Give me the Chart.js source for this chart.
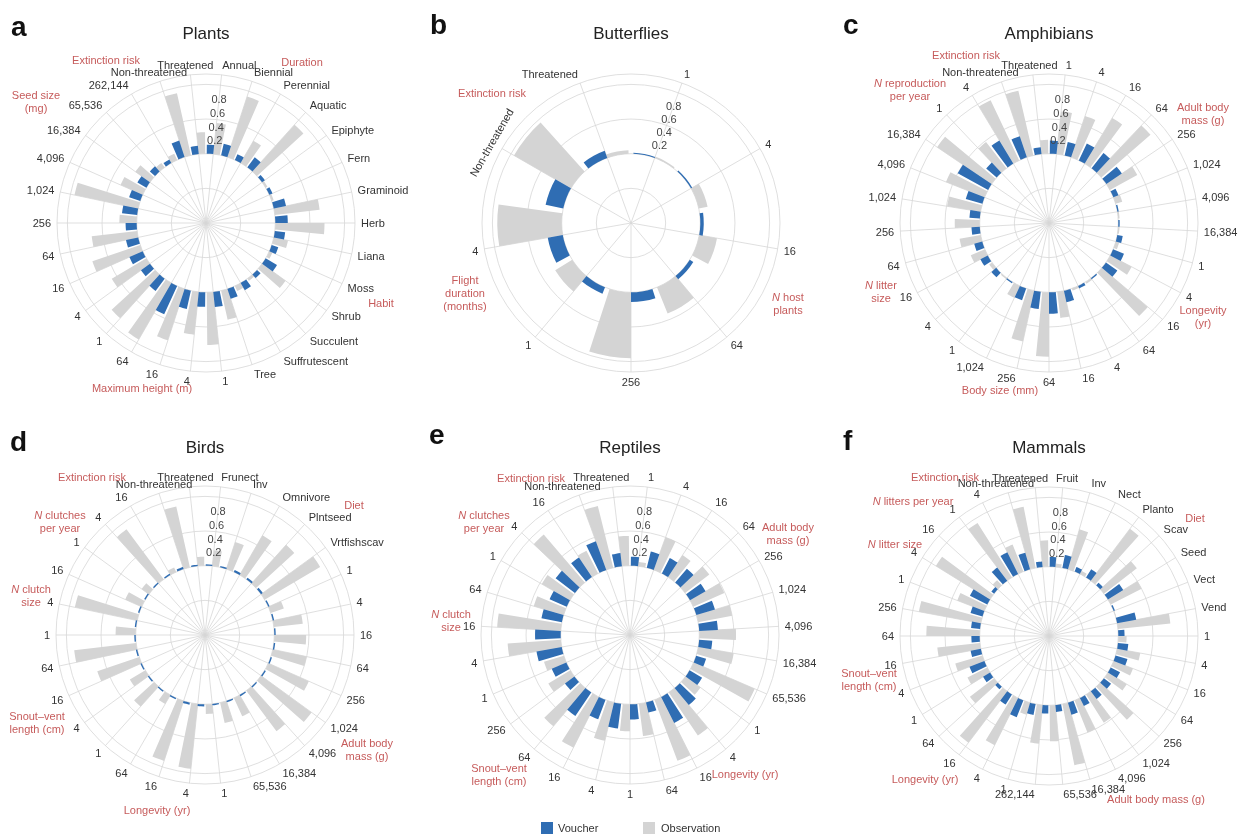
<!DOCTYPE html>
<html><head><meta charset="utf-8">
<script src="https://cdn.jsdelivr.net/npm/chart.js@4.4.1/dist/chart.umd.min.js"></script>
<style>
html,body{margin:0;padding:0;background:#fff;width:1243px;height:838px;overflow:hidden;position:relative;font-family:"Liberation Sans",Arial,Helvetica,sans-serif;}
canvas{position:absolute;}
.tx{position:absolute;white-space:nowrap;}
.ctr{transform:translate(-50%,-50%);text-align:center;}
.letter{font-size:28px;line-height:28px;font-weight:bold;color:#111;}
.title{font-size:17px;line-height:17px;color:#222;transform:translateX(-50%);}
.grp{font-size:11px;line-height:13px;color:#c65b5b;}
.leg{font-size:11px;line-height:13px;color:#333;transform:translateY(-50%);}
.sw{position:absolute;width:12px;height:12px;}
</style></head><body>
<script>
// ---------------- DATA ----------------
const catsPlants = ['Annual','Biennial','Perennial','Aquatic','Epiphyte','Fern','Graminoid','Herb','Liana','Moss','Shrub','Succulent','Suffrutescent','Tree','1','4','16','64','1','4','16','64','256','1,024','4,096','16,384','65,536','262,144','Non-threatened','Threatened'];
const voucherPlants = [0.13,0.17,0.09,0.18,0.05,0.05,0.18,0.18,0.15,0.10,0.19,0.07,0.12,0.15,0.22,0.21,0.27,0.45,0.22,0.16,0.21,0.18,0.16,0.22,0.17,0.15,0.10,0.06,0.25,0.12];
const observationPlants = [0.45,0.92,0.37,0.91,0.03,0.03,0.65,0.71,0.21,0.05,0.42,0.04,0.08,0.43,0.76,0.62,0.78,0.94,0.85,0.58,0.73,0.66,0.25,0.94,0.35,0.26,0.08,0.10,0.92,0.31];

const catsButterflies = ['1','4','16','64','256','1','4','Non-threatened','Threatened'];
const voucherButterflies = [0.015,0.02,0.05,0.06,0.14,0.10,0.22,0.26,0.11];
const observationButterflies = [0.02,0.13,0.26,0.41,0.95,0.29,0.93,0.95,0.05];

const catsAmphibians = ['1','4','16','64','256','1,024','4,096','16,384','1','4','16','64','4','16','64','256','1,024','1','4','16','64','256','1,024','4,096','16,384','1','4','Non-threatened','Threatened'];
const voucherAmphibians = [0.19,0.20,0.27,0.28,0.27,0.08,0.02,0.02,0.08,0.17,0.20,0.02,0.04,0.17,0.31,0.25,0.18,0.02,0.09,0.12,0.12,0.12,0.15,0.25,0.50,0.20,0.39,0.32,0.10];
const observationAmphibians = [0.62,0.63,0.77,0.94,0.45,0.10,0.02,0.02,0.05,0.35,0.87,0.03,0.03,0.38,0.93,0.75,0.19,0.02,0.05,0.22,0.31,0.36,0.49,0.60,0.95,0.48,0.96,0.96,0.20];

const catsBirds = ['Frunect','Inv','Omnivore','Plntseed','Vrtfishscav','1','4','16','64','256','1,024','4,096','16,384','65,536','1','4','16','64','1','4','16','64','1','4','16','1','4','16','Non-threatened','Threatened'];
const voucherBirds = [0.02,0.02,0.03,0.03,0.03,0.02,0.02,0.02,0.02,0.02,0.02,0.02,0.02,0.02,0.02,0.03,0.03,0.02,0.02,0.02,0.02,0.02,0.02,0.02,0.02,0.02,0.02,0.02,0.03,0.02];
const observationBirds = [0.23,0.41,0.66,0.75,0.93,0.20,0.42,0.46,0.50,0.64,0.90,0.73,0.29,0.30,0.14,0.94,0.91,0.15,0.39,0.26,0.64,0.90,0.29,0.92,0.26,0.13,0.90,0.07,0.90,0.13];

const catsReptiles = ['1','4','16','64','256','1,024','4,096','16,384','65,536','1','4','16','64','1','4','16','64','256','1','4','16','64','1','4','16','Non-threatened','Threatened'];
const voucherReptiles = [0.13,0.24,0.25,0.26,0.26,0.28,0.27,0.19,0.15,0.21,0.32,0.42,0.15,0.22,0.36,0.30,0.41,0.17,0.23,0.37,0.37,0.30,0.27,0.35,0.34,0.44,0.19];
const observationReptiles = [0.06,0.50,0.38,0.44,0.49,0.50,0.53,0.52,0.96,0.27,0.75,0.94,0.47,0.39,0.57,0.82,0.72,0.37,0.30,0.77,0.92,0.45,0.47,0.91,0.37,0.92,0.43];

const catsMammals = ['Fruit','Inv','Nect','Planto','Scav','Seed','Vect','Vend','1','4','16','64','256','1,024','4,096','16,384','65,536','262,144','1','4','16','64','1','4','16','64','256','1','4','16','1','4','Non-threatened','Threatened'];
const voucherMammals = [0.14,0.19,0.07,0.14,0.05,0.26,0.02,0.28,0.09,0.15,0.18,0.15,0.13,0.14,0.13,0.18,0.10,0.12,0.16,0.26,0.17,0.05,0.12,0.23,0.15,0.12,0.13,0.18,0.28,0.05,0.24,0.35,0.25,0.08];
const observationMammals = [0.05,0.60,0.05,0.94,0.60,0.50,0.01,0.76,0.12,0.34,0.30,0.32,0.65,0.48,0.50,0.90,0.52,0.56,0.18,0.76,0.93,0.44,0.32,0.41,0.62,0.77,0.91,0.42,0.92,0.10,0.93,0.42,0.90,0.38];

const radialTickValues = [0.2, 0.4, 0.6, 0.8];
const gridValues = [-1, -0.5, 0, 0.5, 1, 1.15];

// ---------------- STYLE / LAYOUT ----------------
const BLUE = '#2f6db3', GRAY = '#d4d4d4', GRID = '#d7d7d7', CLEAR = 'rgba(0,0,0,0)';
const R_MIN = -1, R_MAX = 1.15;
const CAN = 420, RADIUS = 149, PAD = (CAN - 2 * RADIUS) / 2;
const FONT = '"Liberation Sans", Arial, Helvetica, sans-serif';

const panels = [
  {cx: 206, cy: 223, cats: catsPlants, v: voucherPlants, o: observationPlants, hj: {28: 0.62, 29: 0.58}},
  {cx: 631, cy: 223, cats: catsButterflies, v: voucherButterflies, o: observationButterflies, rotate: {7: -60}},
  {cx: 1049, cy: 223, cats: catsAmphibians, v: voucherAmphibians, o: observationAmphibians, hj: {27: 0.75, 28: 0.55}},
  {cx: 205, cy: 635, cats: catsBirds, v: voucherBirds, o: observationBirds, hj: {28: 0.54, 29: 0.56}},
  {cx: 630, cy: 635, cats: catsReptiles, v: voucherReptiles, o: observationReptiles, hj: {25: 0.69, 26: 0.69}},
  {cx: 1049, cy: 636, cats: catsMammals, v: voucherMammals, o: observationMammals, hj: {0: 0.33, 32: 0.64, 33: 0.76}}
];

const holePlugin = {
  id: 'hole',
  afterDatasetsUpdate(chart) {
    const s = chart.scales.r;
    const r0 = s.getDistanceFromCenterForValue(0);
    chart.data.datasets.forEach((d, i) => {
      chart.getDatasetMeta(i).data.forEach(a => { a.innerRadius = r0; });
    });
  }
};

const textPlugin = {
  id: 'polarText',
  afterDraw(chart, args, opts) {
    const s = chart.scales.r, ctx = chart.ctx;
    const R = s.drawingArea;
    const rot = (opts && opts.rotate) || {};
    const hjOv = (opts && opts.hj) || {};
    ctx.save();
    ctx.font = '11px ' + FONT;
    ctx.fillStyle = '#333';
    chart.data.labels.forEach((lab, i) => {
      const th = s.getIndexAngle(i);
      const w = ctx.measureText(lab).width;
      if (rot[i] !== undefined) {
        const p = s.getPointPosition(i, R + 11);
        ctx.save();
        ctx.translate(p.x, p.y);
        ctx.rotate(rot[i] * Math.PI / 180);
        ctx.textAlign = 'center'; ctx.textBaseline = 'middle';
        ctx.fillText(lab, 0, 0);
        ctx.restore();
        return;
      }
      const p = s.getPointPosition(i, R + 6);
      const deg = th * 180 / Math.PI;
      let hj;
      if (hjOv[i] !== undefined) hj = hjOv[i];
      else if (deg < 3 || deg > 357 || Math.abs(deg - 180) < 3) hj = 0.5;
      else hj = deg < 180 ? 0 : 1;
      const vj = 0.5 - 0.5 * Math.cos(th);
      ctx.textAlign = 'left'; ctx.textBaseline = 'alphabetic';
      ctx.fillText(lab, p.x - hj * w, p.y + vj * 8);
    });
    ctx.fillStyle = '#444';
    ctx.textAlign = 'center'; ctx.textBaseline = 'alphabetic';
    radialTickValues.forEach(v => {
      const p = s.getPointPosition(0, s.getDistanceFromCenterForValue(v));
      ctx.fillText(v.toFixed(1), p.x, p.y + 4);
    });
    ctx.restore();
  }
};

panels.forEach(P => {
  const N = P.cats.length;
  const sec = 360 / N;
  const vData = [], vAng = [], vCol = [];
  const order = [];
  for (let k = 1; k < N; k++) order.push(k);
  order.push(0);
  order.forEach(k => {
    vData.push(0); vAng.push(0.55 * sec); vCol.push(CLEAR);
    vData.push(P.v[k]); vAng.push(0.45 * sec); vCol.push(BLUE);
  });
  const oData = [], oAng = [], oCol = [];
  for (let k = 0; k < N; k++) {
    oData.push(P.o[k]); oAng.push(0.45 * sec); oCol.push(GRAY);
    oData.push(0); oAng.push(0.55 * sec); oCol.push(CLEAR);
  }
  const cv = document.createElement('canvas');
  cv.width = CAN; cv.height = CAN;
  cv.style.left = (P.cx - CAN / 2) + 'px';
  cv.style.top = (P.cy - CAN / 2) + 'px';
  document.body.appendChild(cv);
  new Chart(cv, {
    type: 'polarArea',
    data: {
      labels: P.cats,
      datasets: [
        {label: 'Voucher', data: vData, backgroundColor: vCol, borderWidth: 0, angle: c => vAng[c.dataIndex]},
        {label: 'Observation', data: oData, backgroundColor: oCol, borderWidth: 0, angle: c => oAng[c.dataIndex]}
      ]
    },
    options: {
      responsive: false, animation: false, devicePixelRatio: 1, events: [],
      layout: {padding: PAD},
      plugins: {legend: {display: false}, tooltip: {enabled: false}, polarText: {rotate: P.rotate || {}, hj: P.hj || {}}},
      scales: {
        r: {
          min: R_MIN, max: R_MAX, startAngle: 180 / N,
          afterBuildTicks: sc => { sc.ticks = gridValues.map(v => ({value: v})); },
          ticks: {display: false},
          grid: {circular: true, color: GRID, lineWidth: 0.8},
          angleLines: {display: true, color: GRID, lineWidth: 0.8},
          pointLabels: {display: false}
        }
      }
    },
    plugins: [holePlugin, textPlugin]
  });
});

// ---------------- TEXT OVERLAYS ----------------
function addText(html, cls, x, y) {
  const d = document.createElement('div');
  d.className = 'tx ' + cls;
  d.innerHTML = html;
  d.style.left = x + 'px'; d.style.top = y + 'px';
  document.body.appendChild(d);
  return d;
}
[['a', 11, 37], ['b', 430, 35], ['c', 843, 35], ['d', 10, 452], ['e', 429, 445], ['f', 843, 451]]
  .forEach(([t, x, b]) => addText(t, 'letter', x, b - 0.8465 * 28));
[['Plants', 206, 39], ['Butterflies', 631, 39], ['Amphibians', 1049, 39], ['Birds', 205, 453], ['Reptiles', 630, 453], ['Mammals', 1049, 453]]
  .forEach(([t, x, b]) => addText(t, 'title', x, b - 0.8465 * 17));
const groupLabels = [
  ['Extinction risk', 106, 60], ['Duration', 302, 62], ['Seed size<br>(mg)', 36, 101.5], ['Habit', 381, 303], ['Maximum height (m)', 142, 388],
  ['Extinction risk', 492, 93], ['Flight<br>duration<br>(months)', 465, 292.5], ['<i>N</i> host<br>plants', 788, 304],
  ['Extinction risk', 966, 54.5], ['<i>N</i> reproduction<br>per year', 910, 90], ['Adult body<br>mass (g)', 1203, 113.5], ['<i>N</i> litter<br>size', 881, 292], ['Longevity<br>(yr)', 1203, 316.5], ['Body size (mm)', 1000, 390],
  ['Extinction risk', 92, 477], ['Diet', 354, 505], ['<i>N</i> clutches<br>per year', 60, 521.5], ['<i>N</i> clutch<br>size', 31, 595.5], ['Snout–vent<br>length (cm)', 37, 722.5], ['Adult body<br>mass (g)', 367, 750], ['Longevity (yr)', 157, 810],
  ['Extinction risk', 531, 477.5], ['<i>N</i> clutches<br>per year', 484, 521.5], ['Adult body<br>mass (g)', 788, 534], ['<i>N</i> clutch<br>size', 451, 620.5], ['Snout–vent<br>length (cm)', 499, 775], ['Longevity (yr)', 745, 773.5],
  ['Extinction risk', 945, 477], ['Diet', 1195, 517.5], ['<i>N</i> litters per year', 913, 501], ['<i>N</i> litter size', 895, 543.5], ['Snout–vent<br>length (cm)', 869, 680], ['Longevity (yr)', 925, 778.5], ['Adult body mass (g)', 1156, 798.5]
];
groupLabels.forEach(([t, x, y]) => addText(t, 'grp ctr', x, y));
const s1 = document.createElement('div'); s1.className = 'sw'; s1.style.background = BLUE; s1.style.left = '541px'; s1.style.top = '822px'; document.body.appendChild(s1);
const s2 = document.createElement('div'); s2.className = 'sw'; s2.style.background = GRAY; s2.style.left = '643px'; s2.style.top = '822px'; document.body.appendChild(s2);
addText('Voucher', 'leg', 558, 828);
addText('Observation', 'leg', 661, 828);
</script>
</body></html>
